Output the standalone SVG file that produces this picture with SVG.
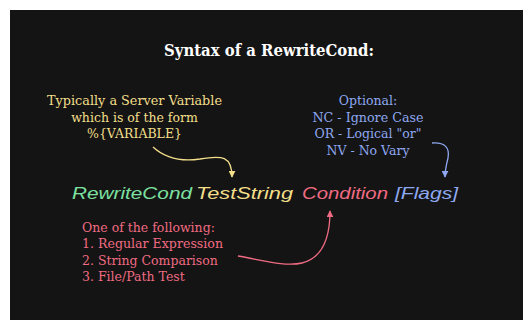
<svg xmlns="http://www.w3.org/2000/svg" width="523" height="320" viewBox="0 0 523 320">
<style>
.serif{font-family:"DejaVu Serif","Liberation Serif",serif;}
.hand{font-family:"Liberation Sans","DejaVu Sans",sans-serif;font-style:italic;font-size:17px;}
.yl{fill:#f3df8a;}
.bl{fill:#8ea8f0;}
.rd{fill:#f06b82;}
.gr{fill:#7de0a0;}
.note{font-size:12.5px;}
.conn path{fill:none;stroke-width:1.3;}
</style>
<defs>
<marker id="ay" viewBox="0 0 10 10" refX="9" refY="5" markerWidth="7" markerHeight="7" orient="auto" markerUnits="userSpaceOnUse"><path d="M0,0 L10,5 L0,10 Z" fill="#f3df8a"/></marker>
<marker id="ab" viewBox="0 0 10 10" refX="9" refY="5" markerWidth="7" markerHeight="7" orient="auto" markerUnits="userSpaceOnUse"><path d="M0,0 L10,5 L0,10 Z" fill="#8ea8f0"/></marker>
<marker id="ar" viewBox="0 0 10 10" refX="9" refY="5" markerWidth="7" markerHeight="7" orient="auto" markerUnits="userSpaceOnUse"><path d="M0,0 L10,5 L0,10 Z" fill="#f06b82"/></marker>
</defs>
<rect x="0" y="0" width="523" height="320" fill="#ffffff"/>
<rect x="10" y="10" width="513" height="310" fill="#141414"/>
<g id="title"><text class="serif" x="269" y="56" font-size="16" font-weight="bold" fill="#ffffff" text-anchor="middle" textLength="210" lengthAdjust="spacingAndGlyphs">Syntax of a RewriteCond:</text></g>
<g id="note-teststring" class="serif note yl" text-anchor="middle">
<text x="134.5" y="105" textLength="175" lengthAdjust="spacingAndGlyphs">Typically a Server Variable</text>
<text x="134.5" y="121.5">which is of the form</text>
<text x="134.5" y="138">%{VARIABLE}</text>
</g>
<g id="note-flags" class="serif note bl" text-anchor="middle">
<text x="368" y="105">Optional:</text>
<text x="368" y="121.5" textLength="111" lengthAdjust="spacingAndGlyphs">NC - Ignore Case</text>
<text x="368" y="138">OR - Logical "or"</text>
<text x="368" y="154.5">NV - No Vary</text>
</g>
<g id="note-condition" class="serif note rd">
<text x="82" y="231.5">One of the following:</text>
<text x="82" y="248" textLength="141" lengthAdjust="spacingAndGlyphs">1. Regular Expression</text>
<text x="82" y="264.5">2. String Comparison</text>
<text x="82" y="281">3. File/Path Test</text>
</g>
<g id="syntax-line" class="hand">
<text id="rewritecond" class="gr" x="72" y="199" textLength="120" lengthAdjust="spacingAndGlyphs">RewriteCond</text>
<text id="teststring" class="yl" x="196" y="199" textLength="97" lengthAdjust="spacingAndGlyphs">TestString</text>
<text id="condition" class="rd" x="302" y="199" textLength="86" lengthAdjust="spacingAndGlyphs">Condition</text>
<text id="flags" class="bl" x="395" y="199" textLength="63" lengthAdjust="spacingAndGlyphs">[Flags]</text>
</g>
<g id="connectors" class="conn">
<path d="M153,147 C165,158 180,162 200,159 C222,155 232,156 232,177" stroke="#f3df8a" marker-end="url(#ay)"/>
<path d="M432,143 C445,142 450,148 448,158 C446,166 445,170 445,177" stroke="#8ea8f0" marker-end="url(#ab)"/>
<path d="M238,256 C262,260 285,267 302,263 C322,258 330,240 330,211" stroke="#f06b82" marker-end="url(#ar)"/>
</g>
</svg>
